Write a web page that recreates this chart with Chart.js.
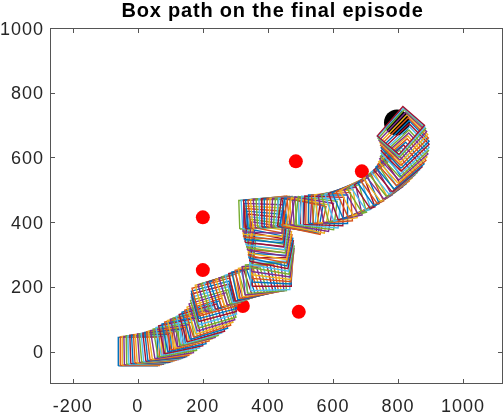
<!DOCTYPE html>
<html lang="en">
<head>
<meta charset="UTF-8">
<title>Box path on the final episode</title>
<script src="https://cdn.jsdelivr.net/npm/chart.js"></script>
<style>
  html, body { margin: 0; padding: 0; background: #fff; }
</style>
</head>
<body>
<canvas id="chart" width="504" height="414"></canvas>
<script>
const titleText = 'Box path on the final episode';
const xTicks = [-200, 0, 200, 400, 600, 800, 1000];
const yTicks = [0, 200, 400, 600, 800, 1000];
const xRange = [-270, 1123];
const yRange = [-100, 1000];

// box centres and rotation (deg) along the path
const boxX = [0, 6, 12, 18, 25, 31, 37, 43, 49, 55, 62, 68, 74, 80, 86, 92,
  98, 105, 114, 123, 132, 142, 151, 160, 169, 178, 188, 197, 206, 215, 222, 228, 232, 234, 234, 234, 236,
  246, 255, 265, 274, 283, 292, 302, 311, 320, 329, 338, 348, 357, 366, 375, 385, 394, 406,
  412, 414, 415, 415, 415, 414, 412, 411, 409, 407, 406, 403, 400, 397, 394, 391, 388, 386, 385,
  372, 380, 388, 395, 403, 410, 418, 426, 434, 441, 449, 457, 465, 472, 480, 488, 495, 503, 511,
  523, 535, 548, 560, 572, 585, 597, 609, 622, 634, 646, 658, 670, 683, 695, 708, 718, 729, 740,
  751, 760, 769, 777, 785, 792, 800, 806, 812, 815, 818, 820, 822, 822, 822, 820, 818, 815, 812, 810, 809];
const boxY = [0, 1, 3, 4, 6, 7, 9, 10, 12, 13, 15, 16, 18, 20, 22, 25,
  28, 31, 37, 43, 49, 55, 62, 68, 72, 77, 83, 89, 97, 105, 114, 123, 132, 142, 151, 160, 169,
  178, 181, 185, 188, 191, 194, 197, 200, 203, 206, 209, 212, 215, 218, 222, 225, 228, 234,
  246, 256, 265, 274, 283, 293, 302, 311, 320, 329, 338, 348, 357, 366, 375, 385, 394, 403, 412,
  425, 427, 428, 430, 431, 431, 431, 431, 431, 430, 428, 428, 428, 426, 425, 424, 422, 420, 418,
  421, 425, 428, 431, 435, 440, 444, 449, 453, 458, 463, 468, 474, 480, 486, 492, 498, 505, 512,
  520, 527, 535, 543, 551, 558, 566, 575, 585, 594, 603, 612, 622, 631, 640, 649, 658, 666, 674, 679, 683];
const boxAngle = [0, 0, 0, 1, 1, 2, 2, 3, 3, 4, 4, 5, 5, 6, 6, 7,
  8, 9, 10, 11, 12, 12, 13, 14, 14, 15, 16, 16, 17, 18, 18, 17, 16, 16, 15, 15, 15,
  15, 16, 17, 18, 18, 19, 18, 18, 17, 16, 15, 13, 12, 10, 8, 6, 4, 2,
  0, -3, -5, -7, -8, -10, -10, -11, -12, -11, -10, -9, -8, -7, -6, -5, -4, -3, -2,
  2, 3, 4, 5, 6, 5, 4, 3, 2, 1, 0, -1, -2, -3, -4, -6, -8, -10, -12,
  -11, -10, -7, -5, -2, 0, 4, 8, 12, 15, 18, 20, 23, 25, 28, 30, 32, 33, 34,
  35, 36, 37, 38, 38, 39, 40, 40, 41, 42, 42, 43, 43, 44, 44, 45, 46, 47, 48, 48, 49];
const boxW = 120;
const boxH = 88;

// red targets and the black goal
const targetX = [200, 486, 200, 323, 495, 689];
const targetY = [415, 588, 252, 141, 123, 557];
const goalX = [797];
const goalY = [708];

const matlabColors = ['#0072BD', '#D95319', '#EDB120', '#7E2F8E', '#77AC30', '#4DBEEE', '#A2142F'];

function boxCorners(cx, cy, deg) {
  const a = deg * Math.PI / 180, c = Math.cos(a), s = Math.sin(a);
  const hw = boxW / 2, hh = boxH / 2;
  return [[-hw, -hh], [hw, -hh], [hw, hh], [-hw, hh], [-hw, -hh]]
    .map(([u, v]) => ({ x: cx + u * c - v * s, y: cy + u * s + v * c }));
}

const datasets = [];
boxX.forEach((cx, i) => {
  datasets.push({
    data: boxCorners(cx, boxY[i], boxAngle[i]),
    showLine: true,
    borderColor: matlabColors[i % matlabColors.length],
    borderWidth: 1.4,
    borderJoinStyle: 'miter',
    pointRadius: 0,
    fill: false,
    order: boxX.length - i
  });
});
datasets.push({
  data: targetX.map((x, i) => ({ x, y: targetY[i] })),
  pointRadius: 7,
  backgroundColor: '#ff0000',
  borderWidth: 0,
  order: 1000
});
datasets.push({
  data: goalX.map((x, i) => ({ x, y: goalY[i] })),
  pointRadius: 13,
  backgroundColor: '#000000',
  borderWidth: 0,
  order: 1001
});

const axisColor = '#262626';
const frame = {
  id: 'frame',
  afterDraw(chart) {
    const { ctx, chartArea: a, scales } = chart;
    ctx.save();
    ctx.strokeStyle = '#555';
    ctx.lineWidth = 1;
    ctx.strokeRect(a.left + 0.5, a.top + 0.5, a.right - a.left - 1, a.bottom - a.top - 1);
    ctx.beginPath();
    xTicks.forEach(v => {
      const px = Math.round(scales.x.getPixelForValue(v)) + 0.5;
      ctx.moveTo(px, a.bottom); ctx.lineTo(px, a.bottom - 5);
      ctx.moveTo(px, a.top); ctx.lineTo(px, a.top + 5);
    });
    yTicks.forEach(v => {
      const py = Math.round(scales.y.getPixelForValue(v)) + 0.5;
      ctx.moveTo(a.left, py); ctx.lineTo(a.left + 5, py);
      ctx.moveTo(a.right, py); ctx.lineTo(a.right - 5, py);
    });
    ctx.stroke();

    ctx.fillStyle = axisColor;
    ctx.font = '18px "Liberation Sans", Arial, Helvetica, sans-serif';
    ctx.letterSpacing = '1px';
    ctx.textBaseline = 'alphabetic';
    ctx.textAlign = 'center';
    xTicks.forEach(v => {
      ctx.fillText(String(v), scales.x.getPixelForValue(v), 411.5);
    });
    ctx.textAlign = 'right';
    yTicks.forEach(v => {
      ctx.fillText(String(v), a.left - 6, scales.y.getPixelForValue(v) + 6.5);
    });

    ctx.fillStyle = '#000';
    ctx.font = 'bold 20px "Liberation Sans", Arial, Helvetica, sans-serif';
    ctx.letterSpacing = '0.8px';
    ctx.textAlign = 'center';
    ctx.fillText(titleText, (a.left + a.right) / 2 - 4, 17);
    ctx.restore();
  }
};

new Chart(document.getElementById('chart'), {
  type: 'scatter',
  data: { datasets },
  options: {
    responsive: false,
    animation: false,
    events: [],
    layout: { autoPadding: false, padding: { top: 28, right: 1, left: 0, bottom: 0 } },
    plugins: { legend: { display: false }, tooltip: { enabled: false }, title: { display: false } },
    scales: {
      x: {
        type: 'linear', min: xRange[0], max: xRange[1],
        grid: { display: false }, border: { display: false },
        ticks: { display: false },
        afterFit(s) { s.height = 30; }
      },
      y: {
        type: 'linear', min: yRange[0], max: yRange[1],
        grid: { display: false }, border: { display: false },
        ticks: { display: false },
        afterFit(s) { s.width = 50; }
      }
    }
  },
  plugins: [frame]
});
</script>
</body>
</html>
